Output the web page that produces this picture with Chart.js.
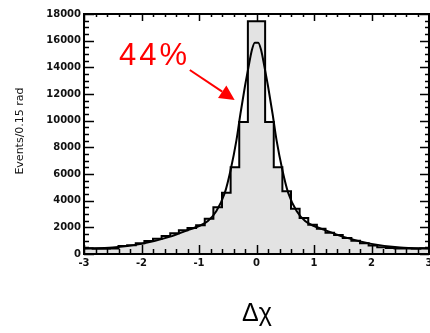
<!DOCTYPE html>
<html>
<head>
<meta charset="utf-8">
<script src="https://cdn.jsdelivr.net/npm/chart.js@4.4.1/dist/chart.umd.min.js"></script>
<style>
  html, body { margin: 0; padding: 0; background: #fff; }
</style>
</head>
<body>
<canvas id="myChart" width="430" height="333"></canvas>
<script>
// delta chi histogram, 0.15 rad bins from -3 to 3
const xMin = -3;
const xMax = 3;
const binWidth = 0.15;
const counts = [
  430, 400, 400, 420, 600, 650, 800, 980, 1150, 1350,
  1550, 1780, 1950, 2150, 2640, 3500, 4600, 6500, 9900, 17450,
  17450, 9900, 6500, 4700, 3400, 2700, 2200, 1900, 1600, 1430,
  1200, 1000, 800, 630, 500, 450, 420, 420, 400, 430,
];

const curveX = [-3, -2.5, -2, -1.5, -1.25, -1, -0.85, -0.7, -0.55, -0.45, -0.35, -0.28, -0.2, -0.14, -0.08, -0.03,
  0.03, 0.08, 0.14, 0.2, 0.28, 0.35, 0.45, 0.55, 0.7, 0.85, 1, 1.25, 1.5, 2, 2.5, 3];
const curveY = [420, 480, 760, 1300, 1700, 2100, 2450, 3200, 4600, 6300, 8500, 10500, 12600, 14000, 15300, 15850,
  15850, 15300, 14000, 12600, 10500, 8500, 6300, 4600, 3200, 2450, 2100, 1700, 1300, 760, 480, 420];

const yTicks = [0, 2000, 4000, 6000, 8000, 10000, 12000, 14000, 16000, 18000];

// arrow pointing at the peak, in data units
const arrowFrom = { x: -1.16, y: 13800 };
const arrowTo = { x: -0.38, y: 11550 };

const histPoints = counts.map((c, i) => ({ x: +(xMin + i * binWidth).toFixed(2), y: c }));
histPoints.push({ x: xMax, y: counts[counts.length - 1] });

const curvePoints = curveX.map((v, i) => ({ x: v, y: curveY[i] }));

const tickFont = { family: "DejaVu Sans", size: 10, weight: "bold" };

// box frame with inward ticks on all four sides, plus labels
const boxTicks = {
  id: "boxTicks",
  afterDraw(chart) {
    const { ctx, chartArea: a, scales: { x, y } } = chart;
    ctx.save();
    ctx.strokeStyle = "#000";
    ctx.lineWidth = 1.5;
    ctx.beginPath();
    for (let i = 0; i <= 30; i++) {
      const px = Math.round(x.getPixelForValue(xMin + i * 0.2)) + 0.5;
      const len = i % 5 === 0 ? 9 : 5;
      ctx.moveTo(px, a.bottom);
      ctx.lineTo(px, a.bottom - len);
      ctx.moveTo(px, a.top);
      ctx.lineTo(px, a.top + len - 2);
    }
    for (let i = 0; i <= 36; i++) {
      const py = Math.round(y.getPixelForValue(i * 500)) + 0.5;
      const len = i % 4 === 0 ? 10 : 5;
      ctx.moveTo(a.left, py);
      ctx.lineTo(a.left + len, py);
      ctx.moveTo(a.right, py);
      ctx.lineTo(a.right - len + 1, py);
    }
    ctx.stroke();

    ctx.lineWidth = 2;
    ctx.strokeRect(a.left, a.top, a.right - a.left, a.bottom - a.top);

    // y axis title
    ctx.save();
    ctx.translate(20, 131);
    ctx.rotate(-Math.PI / 2);
    ctx.fillStyle = "#111";
    ctx.font = "11px 'DejaVu Sans'";
    ctx.textAlign = "center";
    ctx.textBaseline = "middle";
    ctx.fillText("Events/0.15 rad", 0, 0);
    ctx.restore();

    // x axis title
    ctx.fillStyle = "#000";
    ctx.font = "25px 'Liberation Sans'";
    ctx.textAlign = "center";
    ctx.textBaseline = "alphabetic";
    ctx.fillText("Δχ", 257, 321);

    // 44% note with arrow
    ctx.fillStyle = "#ff0000";
    ctx.font = "31px 'Liberation Sans'";
    ctx.textAlign = "left";
    ctx.letterSpacing = "3px";
    ctx.fillText("44%", 119, 65);
    ctx.letterSpacing = "0px";

    const x0 = x.getPixelForValue(arrowFrom.x), y0 = y.getPixelForValue(arrowFrom.y);
    const x1 = x.getPixelForValue(arrowTo.x), y1 = y.getPixelForValue(arrowTo.y);
    const ang = Math.atan2(y1 - y0, x1 - x0);
    const headLen = 15, headHalf = 7.5;
    const bx = x1 - headLen * Math.cos(ang), by = y1 - headLen * Math.sin(ang);
    ctx.strokeStyle = "#ff0000";
    ctx.lineWidth = 2;
    ctx.beginPath();
    ctx.moveTo(x0, y0);
    ctx.lineTo(bx, by);
    ctx.stroke();
    ctx.beginPath();
    ctx.moveTo(x1, y1);
    ctx.lineTo(bx + headHalf * Math.sin(ang), by - headHalf * Math.cos(ang));
    ctx.lineTo(bx - headHalf * Math.sin(ang), by + headHalf * Math.cos(ang));
    ctx.closePath();
    ctx.fill();
    ctx.restore();
  },
};

const data = {
  datasets: [
    {
      label: "fit",
      data: curvePoints,
      borderColor: "#000",
      borderWidth: 2,
      pointRadius: 0,
      fill: false,
      cubicInterpolationMode: "monotone",
      order: 0,
    },
    {
      label: "events",
      data: histPoints,
      stepped: "before",
      borderColor: "#000",
      borderWidth: 2,
      backgroundColor: "#e3e3e3",
      pointRadius: 0,
      fill: "origin",
      order: 1,
    },
  ],
};

const config = {
  type: "line",
  data,
  options: {
    responsive: false,
    animation: false,
    layout: { padding: { top: 14, right: 1, left: 0, bottom: 0 } },
    plugins: { legend: { display: false }, tooltip: { enabled: false } },
    scales: {
      x: {
        type: "linear",
        min: xMin,
        max: xMax,
        grid: { display: false, drawTicks: false },
        border: { display: false },
        ticks: { stepSize: 1, autoSkip: false, maxRotation: 0, padding: 3, color: "#111", font: tickFont },
        afterFit(s) {
          s.height = 79;
          s.paddingLeft = 0;
          s.paddingRight = 0;
        },
      },
      y: {
        min: 0,
        max: 18000,
        grid: { display: false, drawTicks: false },
        border: { display: false },
        afterBuildTicks(s) { s.ticks = yTicks.map((v) => ({ value: v })); },
        ticks: { padding: 3, color: "#111", font: tickFont, callback: (v) => String(v) },
        afterFit(s) {
          s.width = 84;
          s.paddingTop = 0;
          s.paddingBottom = 0;
        },
      },
    },
  },
  plugins: [boxTicks],
};

let myChart = new Chart(document.getElementById("myChart"), config);
</script>
</body>
</html>
